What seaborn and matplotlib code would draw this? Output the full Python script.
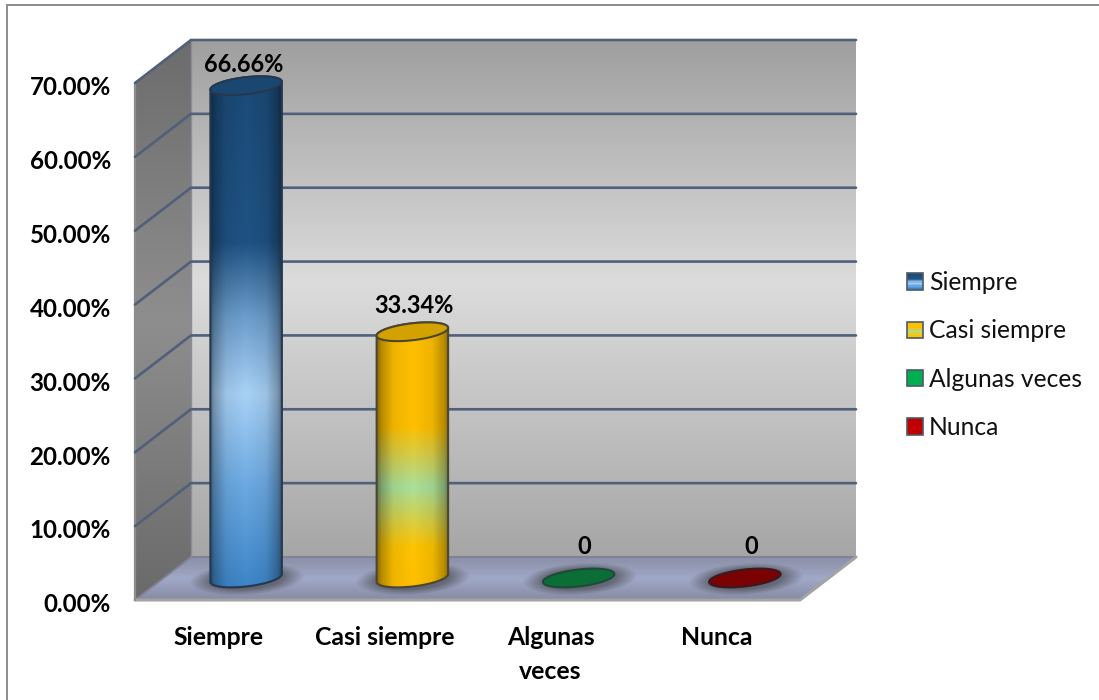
import numpy as np
import matplotlib
matplotlib.use("Agg")
import matplotlib.pyplot as plt
from matplotlib.colors import to_rgb
from matplotlib.legend_handler import HandlerBase
from matplotlib.patches import Patch, Polygon, Rectangle
from matplotlib.transforms import ScaledTranslation
import seaborn as sns

categories = ["Siempre", "Casi siempre", "Algunas veces", "Nunca"]
axis_labels = ["Siempre", "Casi siempre", "Algunas\nveces", "Nunca"]
values = [66.66, 33.34, 0, 0]
value_labels = ["66.66%", "33.34%", "0", "0"]
y_ticks = [0, 10, 20, 30, 40, 50, 60, 70]

W, H = 1099, 700
FRONT_L, FRONT_R, FRONT_T, FRONT_B = 135, 800, 83, 600
DEPTH_X, DEPTH_Y = 56, 43
BAR_SHIFT_X, BAR_SHIFT_Y = 28, 22
ELL_B, ELL_SHEAR = 8.5, 0.11
LABEL_DX = [-2, 2, 6, 6]
LABEL_DY = [21, 26, 31, 31]

cap_colors = ["#1a4771", "#d4a200", "#0b6e37", "#7a0202"]
edge_colors = ["#26384e", "#4b4632", "#1f4a3a", "#3a1a22"]
swatch_colors = ["#1f5284", "#ffc000", "#00b050", "#c00000"]
body_stops = [
    [(0.0, "#1b4a76"), (0.33, "#1f5284"), (0.47, "#6b9ccb"), (0.62, "#a9d2f7"),
     (0.80, "#6ba9e2"), (1.0, "#3b84c8")],
    [(0.0, "#ffc000"), (0.40, "#ffc000"), (0.62, "#a9e09c"), (0.84, "#ffc400"), (1.0, "#ffc000")],
]

sns.set_theme(style="white")
plt.rcParams["font.family"] = ["Lato", "DejaVu Sans"]

fig = plt.figure(figsize=(W / 100, H / 100), dpi=100, facecolor="white")
canvas = fig.add_axes([0, 0, 1, 1], zorder=0)
canvas.set_xlim(0, W)
canvas.set_ylim(H, 0)
canvas.set_autoscale_on(False)
canvas.axis("off")

ax = fig.add_axes([FRONT_L / W, (H - FRONT_B) / H, (FRONT_R - FRONT_L) / W, (FRONT_B - FRONT_T) / H],
                  zorder=1)
ax.patch.set_visible(False)
sns.barplot(x=categories, y=values, hue=categories, palette=swatch_colors, width=0.43,
            dodge=False, legend=False, ax=ax)
ax.set_xlim(-0.5, 3.5)
ax.set_ylim(0, 70)
ax.set_yticks(y_ticks)
ax.set_yticklabels([f"{t:.2f}%" for t in y_ticks], fontsize=17.4, fontweight="bold", color="black")
ax.set_xticks(range(len(axis_labels)))
ax.set_xticklabels(axis_labels, fontsize=17.8, fontweight="bold", color="black", linespacing=1.56)
ax.tick_params(axis="y", length=0, pad=17.4)
ax.tick_params(axis="x", length=0, pad=19)
for lab in ax.get_yticklabels():
    lab.set_transform(lab.get_transform() + ScaledTranslation(0, -2 / 72, fig.dpi_scale_trans))
sns.despine(ax=ax, left=True, bottom=True)
ax.set_xlabel("")
ax.set_ylabel("")


def to_canvas(x, y):
    return canvas.transData.inverted().transform(ax.transData.transform((x, y)))


def ramp(stops, n=256):
    pos = [s[0] for s in stops]
    cols = np.array([to_rgb(s[1]) for s in stops])
    t = np.linspace(0, 1, n)
    return np.stack([np.interp(t, pos, cols[:, i]) for i in range(3)], axis=1)


def vertical_fill(stops, extent, clip_xy, zorder):
    img = ramp(stops)[:, None, :]
    im = canvas.imshow(img, extent=extent, aspect="auto", interpolation="bilinear", zorder=zorder)
    im.set_clip_path(Polygon(clip_xy, closed=True, transform=canvas.transData))
    return im


# Back wall, side wall and floor of the chart box
back_l, back_r = FRONT_L + DEPTH_X, FRONT_R + DEPTH_X
back_t, back_b = FRONT_T - DEPTH_Y, FRONT_B - DEPTH_Y
vertical_fill([(0, "#9f9f9f"), (0.47, "#dcdcdc"), (1, "#a6a6a6")], [back_l, back_r, back_b, back_t],
              [(back_l, back_t), (back_r, back_t), (back_r, back_b), (back_l, back_b)], 1)
vertical_fill([(0, "#6c6c6c"), (0.5, "#8e8e8e"), (1, "#6a6a6a")], [FRONT_L, back_l, FRONT_B, back_t],
              [(FRONT_L, FRONT_T), (back_l, back_t), (back_l, back_b), (FRONT_L, FRONT_B)], 1)
vertical_fill([(0, "#8b8fa6"), (0.5, "#a1a9c8"), (1, "#868aa3")], [FRONT_L, back_r, FRONT_B, back_b],
              [(FRONT_L, FRONT_B), (back_l, back_b), (back_r, back_b), (FRONT_R, FRONT_B)], 1)
canvas.plot([FRONT_L, back_l, back_r], [FRONT_B, back_b, back_b], color="#7f8296", lw=1.4, zorder=2)
canvas.plot([FRONT_L, FRONT_R, back_r], [FRONT_B, FRONT_B, back_b], color="#a3a3a3", lw=2.2, zorder=2)
canvas.plot([FRONT_L, FRONT_L], [FRONT_T, FRONT_B], color="#8d8d8d", lw=1.6, zorder=2)
canvas.plot([back_l, back_l], [back_t, back_b], color="#8a8d98", lw=1.0, zorder=2)

for tick in y_ticks[1:]:
    fx, fy = to_canvas(-0.5, tick)
    canvas.plot([fx, fx + DEPTH_X, back_r], [fy, fy - DEPTH_Y, fy - DEPTH_Y],
                color="#50607a", lw=1.9, zorder=2, solid_joinstyle="miter")


def ellipse_points(cx, cy, half_w, t):
    px = half_w * np.cos(t)
    return cx + px, cy + ELL_B * np.sin(t) - ELL_SHEAR * px


def soft_shadow(cx, cy):
    half_w, half_h = 58, 16
    xs = np.linspace(-1, 1, 160)
    gx, gy = np.meshgrid(xs, xs)
    skew = gy + 0.2 * gx
    r = np.sqrt(gx ** 2 + skew ** 2)
    alpha = np.clip((1 - r) * 1.5, 0, 0.55)
    rgba = np.zeros((160, 160, 4))
    rgba[..., :3] = 0.22
    rgba[..., 3] = alpha
    canvas.imshow(rgba, extent=[cx - half_w, cx + half_w, cy + half_h, cy - half_h], aspect="auto",
                  interpolation="bilinear", zorder=3)


# Cylinders take their position and size from the bar rectangles
shade_pos = [0, 0.06, 0.22, 0.5, 0.78, 0.94, 1]
shade_val = [0.55, 0.72, 0.93, 1.0, 0.93, 0.72, 0.55]
for i, bar in enumerate(ax.patches[:len(categories)]):
    bar.set_facecolor("none")
    bar.set_edgecolor("none")
    x0, h, w = bar.get_x(), bar.get_height(), bar.get_width()
    bx0, base_y = to_canvas(x0, 0)
    bx1, top_y = to_canvas(x0 + w, h)
    half_w = (bx1 - bx0) / 2
    cx = (bx0 + bx1) / 2 + BAR_SHIFT_X
    base_y -= BAR_SHIFT_Y
    top_y -= BAR_SHIFT_Y
    soft_shadow(cx + 1, base_y + 1)

    t_low = np.linspace(np.pi, 0, 80)
    t_up = np.linspace(0, -np.pi, 80)
    if h > 0:
        low_x, low_y = ellipse_points(cx, base_y, half_w, t_low)
        up_x, up_y = ellipse_points(cx, top_y, half_w, t_up)
        outline = np.column_stack([np.r_[low_x, up_x], np.r_[low_y, up_y]])
        vert = ramp(body_stops[i])
        horiz = np.interp(np.linspace(0, 1, 90), shade_pos, shade_val)
        img = vert[:, None, :] * horiz[None, :, None]
        span = [cx - half_w, cx + half_w, base_y + ELL_B + 6, top_y - ELL_B - 6]
        im = canvas.imshow(img, extent=span, aspect="auto", interpolation="bilinear", zorder=4)
        im.set_clip_path(Polygon(outline, closed=True, transform=canvas.transData))
        canvas.add_patch(Polygon(outline, closed=True, fill=False, edgecolor=edge_colors[i], lw=1.5, zorder=5))
    tt = np.linspace(0, 2 * np.pi, 160)
    cap_x, cap_y = ellipse_points(cx, top_y, half_w, tt)
    canvas.add_patch(Polygon(np.column_stack([cap_x, cap_y]), closed=True, facecolor=cap_colors[i],
                             edgecolor=edge_colors[i], lw=1.5, zorder=6))

    # Value label above each cylinder
    ax.annotate(value_labels[i], xy=(x0 + w / 2, h), xycoords="data",
                xytext=((BAR_SHIFT_X + LABEL_DX[i]) * 0.72, (BAR_SHIFT_Y + LABEL_DY[i]) * 0.72),
                textcoords="offset points", ha="center", va="center", fontsize=17,
                fontweight="bold", color="black", annotation_clip=False)

# Outer frame: only the top and left rules run inside the picture
canvas.plot([7, 7, W], [H, 4.5, 4.5], color="#8c8c8c", lw=1.4, zorder=0.5, solid_joinstyle="miter")


class GradientSwatch(HandlerBase):
    def create_artists(self, legend, orig_handle, xdescent, ydescent, width, height, fontsize, trans):
        stops = getattr(orig_handle, "stops", None)
        parts = []
        if stops is not None:
            colors = ramp(stops, 12)
            for k, c in enumerate(colors):
                y0 = height * (1 - (k + 1) / 12)
                parts.append(Rectangle((-xdescent, y0 - ydescent), width, height / 12, facecolor=c,
                                       edgecolor="none", transform=trans))
        else:
            parts.append(Rectangle((-xdescent, -ydescent), width, height,
                                   facecolor=orig_handle.get_facecolor(), edgecolor="none", transform=trans))
        parts.append(Rectangle((-xdescent, -ydescent), width, height, fill=False,
                               edgecolor="#4d5a68", lw=1.2, transform=trans))
        return parts


handles = []
for i, name in enumerate(categories):
    handle = Patch(facecolor=swatch_colors[i], label=name)
    handle.stops = body_stops[i] if i < len(body_stops) else None
    handles.append(handle)
ax.legend(handles=handles, handler_map={Patch: GradientSwatch()}, loc="center left",
          bbox_to_anchor=(907 / W, (H - 355) / H), bbox_transform=fig.transFigure, frameon=False,
          fontsize=17.7, handlelength=0.65, handleheight=0.65, handletextpad=0.24,
          labelspacing=1.03, borderaxespad=0, borderpad=0, labelcolor="#111111")

fig.savefig("out.png", dpi=100, facecolor="white")
